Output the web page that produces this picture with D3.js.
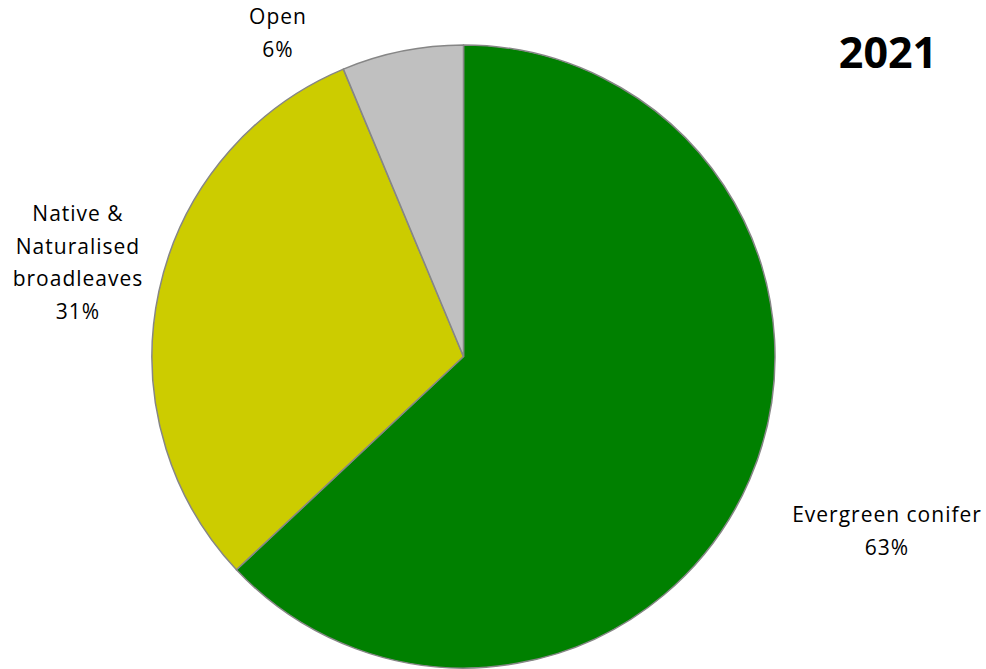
<!DOCTYPE html>
<html>
<head>
<meta charset="utf-8">
<script src="https://cdn.jsdelivr.net/npm/d3@7"></script>
<style>
  body { margin: 0; background: #fff; }
  text { font-family: "Open Sans", "Noto Sans", sans-serif; fill: #000; }
</style>
</head>
<body>
<div id="chart"></div>
<script>
// slice data, clockwise from 12 o'clock
const categories = ["Evergreen conifer", "Native & Naturalised broadleaves", "Open"];
const shares = [63.0, 30.7, 6.3];
const colours = ["#008000", "#cccc00", "#c0c0c0"];
// label lines as printed on the chart
const labelLines = [["Evergreen conifer", "63%"], ["Native &", "Naturalised", "broadleaves", "31%"], ["Open", "6%"]];
const labelPos = [[887, 522], [78, 221], [278, 24]];
const year = "2021";

const width = 986, height = 669;
const cx = 463.5, cy = 356.5, radius = 311.5;
const lineH = 32.5;

const svg = d3.select("#chart").append("svg")
  .attr("width", width)
  .attr("height", height);

const pie = d3.pie().sort(null).value(d => d.value);
const arc = d3.arc().innerRadius(0).outerRadius(radius);

const data = categories.map((c, i) => ({ name: c, value: shares[i], colour: colours[i] }));

const g = svg.append("g").attr("transform", "translate(" + cx + "," + cy + ")");

g.selectAll("path")
  .data(pie(data))
  .join("path")
  .attr("d", arc)
  .attr("fill", d => d.data.colour)
  .attr("stroke", "#868686")
  .attr("stroke-width", 1.5)
  .attr("stroke-linejoin", "round");

// slice labels
labelLines.forEach((lines, i) => {
  const t = svg.append("text")
    .attr("text-anchor", "middle")
    .attr("font-size", 21)
    .attr("letter-spacing", 1);
  lines.forEach((ln, j) => {
    t.append("tspan")
      .attr("x", labelPos[i][0])
      .attr("y", labelPos[i][1] + j * lineH)
      .text(ln);
  });
});

// year title
svg.append("text")
  .attr("x", 888)
  .attr("y", 68)
  .attr("text-anchor", "middle")
  .attr("font-size", 43)
  .attr("font-weight", "bold")
  .text(year);
</script>
</body>
</html>
